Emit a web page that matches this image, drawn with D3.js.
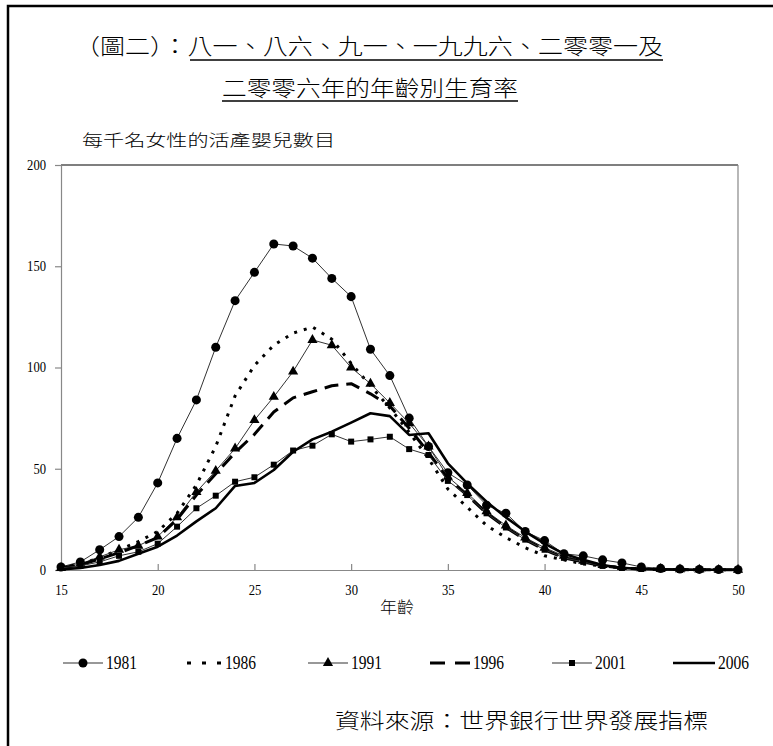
<!DOCTYPE html>
<html>
<head>
<meta charset="utf-8">
<script src="https://cdn.jsdelivr.net/npm/d3@7"></script>
<style>
  body { margin: 0; background: #fff; }
</style>
</head>
<body>
<svg id="chart" width="773" height="746"></svg>
<script>
// age-specific fertility rates, live births per 1000 women
const ages = [15,16,17,18,19,20,21,22,23,24,25,26,27,28,29,30,31,32,33,34,35,36,37,38,39,40,41,42,43,44,45,46,47,48,49,50];
const years = ["1981", "1986", "1991", "1996", "2001", "2006"];
const rate1981 = [1.5,4,10,16.5,26,43,65,84,110,133,147,161,160,154,144,135,109,96,75,61,48,42,32,28,19,14.5,8,7,5,3.5,1.5,0.8,0.5,0.3,0.2,0.1];
const rate1986 = [1,3,6,10,14,19,28,42,61,86,101,111,117,120,114,102,91,80,68,55,40,31,22,16,11,7,5,3,2,1,0.5,0.3,0.2,0.1,0.1,0.1];
const rate1991 = [1,3,6.5,10,12,16.5,26,38.5,49,60,74,85.5,98,113.6,111,100,92,82.5,72.5,61,46,38,29,22,16,11,7,4.5,2.5,1.5,0.8,0.5,0.3,0.2,0.1,0.1];
const rate1996 = [1,2.5,5.5,8.5,12,16,25,37,47.5,58,67,78,85,88,91,92,87,81,70,58,45,37,28,21,15,10,6,4,2,1,0.5,0.3,0.2,0.1,0.1,0.1];
const rate2001 = [1,2,4,7,9,13,21.4,30.5,36.7,43.6,45.8,52,59,61.4,67,63.4,64.5,65.8,59.7,56.8,44,37,28,21,15,10,6,4,2,1,0.5,0.3,0.2,0.1,0.1,0.1];
const rate2006 = [0.3,1,2.5,4.5,8,11.5,17,24,30.5,41.5,43,49.4,58.4,64.5,68.3,72.8,77.4,76,66.7,67.5,52.7,42.8,33.7,26,19,13,8,5,2.5,1,0.5,0.3,0.2,0.1,0.1,0.1];
const xTicks = [15,20,25,30,35,40,45,50];
const yTicks = [0,50,100,150,200];

const rates = [rate1981, rate1986, rate1991, rate1996, rate2001, rate2006];

// how each year is drawn
const styles = {
  "1981": {width: 1, dash: null, marker: "circle", color: "#333"},
  "1986": {width: 3, dash: "3,7", marker: null, color: "#000"},
  "1991": {width: 1, dash: null, marker: "triangle", color: "#333"},
  "1996": {width: 3, dash: "14,8", marker: null, color: "#000"},
  "2001": {width: 1, dash: null, marker: "square", color: "#333"},
  "2006": {width: 2.6, dash: null, marker: null, color: "#000"}
};

const serif = "'Liberation Serif', 'Times New Roman', serif";
const cjk = "'Noto Sans CJK TC', 'Noto Sans CJK SC', sans-serif";

const svg = d3.select("#chart");
svg.append("rect").attr("width", 773).attr("height", 746).attr("fill", "#fff");

// outer frame (runs off the right and bottom edge)
svg.append("path")
  .attr("d", "M8,780 L8,6 L790,6")
  .attr("fill", "none")
  .attr("stroke", "#000")
  .attr("stroke-width", 2.5);

// titles
svg.append("text")
  .attr("x", 75).attr("y", 54)
  .attr("textLength", 588).attr("lengthAdjust", "spacingAndGlyphs")
  .style("font-family", cjk).style("font-size", "22px").style("font-weight", 300)
  .text("（圖二）：八一、八六、九一、一九九六、二零零一及");
svg.append("line").attr("x1", 190).attr("x2", 663).attr("y1", 60).attr("y2", 60)
  .attr("stroke", "#000").attr("stroke-width", 1.5);

svg.append("text")
  .attr("x", 222).attr("y", 96)
  .attr("textLength", 296).attr("lengthAdjust", "spacingAndGlyphs")
  .style("font-family", cjk).style("font-size", "22px").style("font-weight", 300)
  .text("二零零六年的年齡別生育率");
svg.append("line").attr("x1", 222).attr("x2", 518).attr("y1", 101).attr("y2", 101)
  .attr("stroke", "#000").attr("stroke-width", 1.5);

svg.append("text")
  .attr("x", 82).attr("y", 146)
  .attr("textLength", 253).attr("lengthAdjust", "spacingAndGlyphs")
  .style("font-family", cjk).style("font-size", "16px").style("font-weight", 300)
  .text("每千名女性的活產嬰兒數目");

// scales
const x = d3.scaleLinear().domain([15, 50]).range([61, 738]);
const y = d3.scaleLinear().domain([0, 200]).range([570, 165]);

// plot frame: top black, right gray
svg.append("line").attr("x1", x(15)).attr("x2", x(50)).attr("y1", y(200)).attr("y2", y(200))
  .attr("stroke", "#000").attr("stroke-width", 1.2);
svg.append("line").attr("x1", x(50)).attr("x2", x(50)).attr("y1", y(200)).attr("y2", y(0))
  .attr("stroke", "#888").attr("stroke-width", 1.2);

const xAxis = svg.append("g")
  .attr("transform", `translate(0,${y(0)})`)
  .call(d3.axisBottom(x).tickValues(xTicks).tickSizeInner(-6).tickSizeOuter(0).tickPadding(15));
const yAxis = svg.append("g")
  .attr("transform", `translate(${x(15)},0)`)
  .call(d3.axisLeft(y).tickValues(yTicks).tickSizeInner(6).tickSizeOuter(0).tickPadding(9));

[xAxis, yAxis].forEach(a => {
  a.select(".domain").attr("stroke", "#888").attr("stroke-width", 1.2);
  a.selectAll(".tick line").attr("stroke", "#888").attr("stroke-width", 1.2);
  a.selectAll("text")
    .style("font-family", serif).style("font-size", "14px").attr("fill", "#000")
    .attr("textLength", d => String(d).length * 6.3)
    .attr("lengthAdjust", "spacingAndGlyphs");
});

svg.append("text")
  .attr("x", 397).attr("y", 613).attr("text-anchor", "middle")
  .attr("textLength", 34).attr("lengthAdjust", "spacingAndGlyphs")
  .style("font-family", cjk).style("font-size", "16px").style("font-weight", 300)
  .text("年齡");

// markers
function markerPath(kind) {
  if (kind === "circle") return d3.symbol(d3.symbolCircle, 64)();
  if (kind === "triangle") return d3.symbol(d3.symbolTriangle, 45)();
  if (kind === "square") return d3.symbol(d3.symbolSquare, 36)();
  return null;
}

const line = d3.line().x((d, i) => x(ages[i])).y(d => y(d));

years.forEach((yr, k) => {
  const s = styles[yr];
  const g = svg.append("g").attr("class", "series-" + yr);
  g.append("path")
    .datum(rates[k])
    .attr("d", line)
    .attr("fill", "none")
    .attr("stroke", s.color)
    .attr("stroke-width", s.width)
    .attr("stroke-dasharray", s.dash)
    .attr("stroke-linejoin", "round");
  if (s.marker) {
    g.selectAll("path.mk")
      .data(rates[k])
      .join("path")
      .attr("class", "mk")
      .attr("d", markerPath(s.marker))
      .attr("transform", (d, i) => `translate(${x(ages[i])},${y(d)})`)
      .attr("fill", "#000");
  }
});

// legend
const legendX = [63, 187, 308, 430, 552, 673];
const legendLen = [40, 35, 40, 40, 40, 42];
const legend = svg.append("g").attr("transform", "translate(0,663)");
years.forEach((yr, k) => {
  const s = styles[yr];
  const x0 = legendX[k], x1 = legendX[k] + legendLen[k];
  legend.append("line")
    .attr("x1", x0).attr("x2", x1)
    .attr("stroke", s.color).attr("stroke-width", s.width === 1 ? 1.2 : s.width)
    .attr("stroke-dasharray", s.dash === "14,8" ? "15,10" : (s.dash === "3,7" ? "4,11" : null));
  if (s.marker) {
    legend.append("path")
      .attr("d", markerPath(s.marker))
      .attr("transform", `translate(${(x0 + x1) / 2},0)`)
      .attr("fill", "#000");
  }
  legend.append("text")
    .attr("x", x1 + 3).attr("y", 6)
    .attr("textLength", 31).attr("lengthAdjust", "spacingAndGlyphs")
    .style("font-family", serif).style("font-size", "18px")
    .text(yr);
});

svg.append("text")
  .attr("x", 335).attr("y", 728)
  .attr("textLength", 373).attr("lengthAdjust", "spacingAndGlyphs")
  .style("font-family", cjk).style("font-size", "21px").style("font-weight", 300)
  .text("資料來源：世界銀行世界發展指標");
</script>
</body>
</html>
